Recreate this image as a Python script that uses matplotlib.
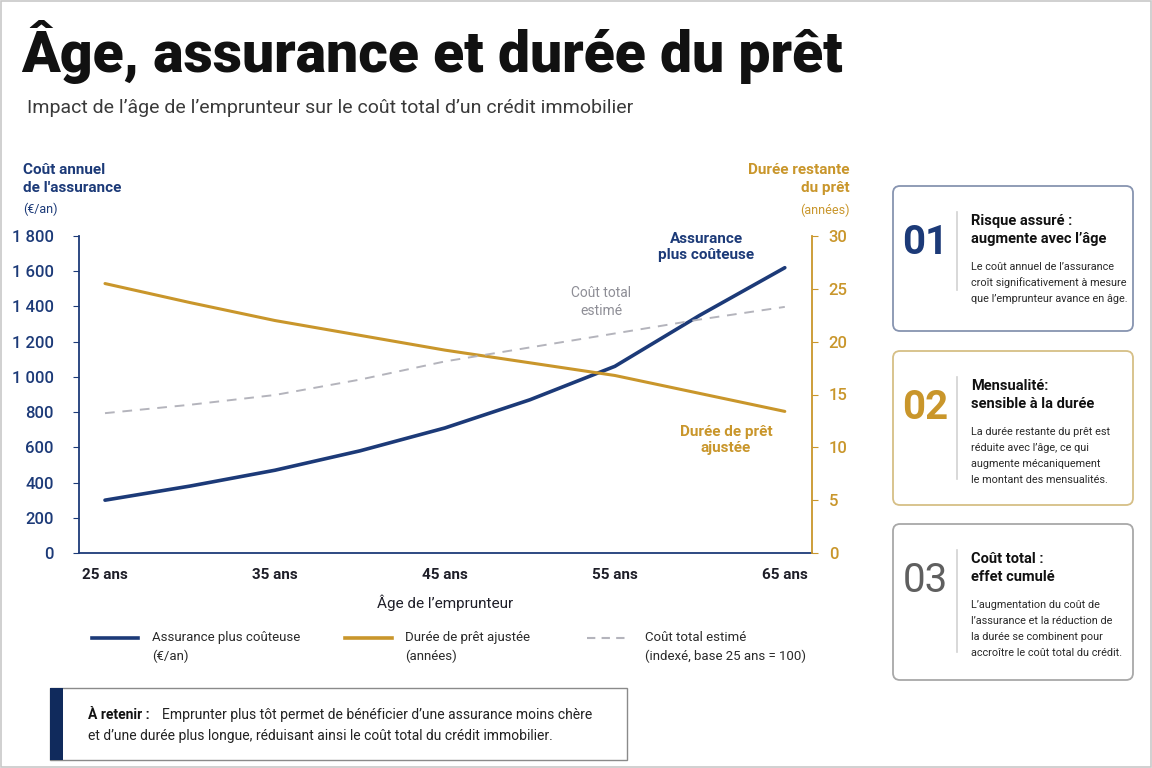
import matplotlib.pyplot as plt
import numpy as np
from matplotlib.patches import FancyBboxPatch, Rectangle
from matplotlib.lines import Line2D

# données
ages = [25, 30, 35, 40, 45, 50, 55, 60, 65]
assurance = [300, 380, 470, 580, 710, 870, 1060, 1350, 1620]      # €/an
duree = [25.5, 23.7, 22.0, 20.6, 19.2, 18.0, 16.8, 15.1, 13.4]    # années
cout_total = [100, 106, 113, 124, 137, 147, 157, 167, 176]        # indice base 25 ans = 100

xticks = [25, 35, 45, 55, 65]
xtick_labels = ["25 ans", "35 ans", "45 ans", "55 ans", "65 ans"]
left_ticks = [0, 200, 400, 600, 800, 1000, 1200, 1400, 1600, 1800]
left_labels = ["0", "200", "400", "600", "800", "1 000", "1 200", "1 400", "1 600", "1 800"]
right_ticks = [0, 5, 10, 15, 20, 25, 30]

NAVY = "#1c3a78"
GOLD = "#c9962b"
GRAY = "#b4b4bc"
DARK = "#1e1e28"
SANS = ["Roboto", "DejaVu Sans"]

W, H = 1152, 768
fig = plt.figure(figsize=(W / 100, H / 100), dpi=100)
fig.patch.set_facecolor("white")

# calque de fond en coordonnées pixels
bg = fig.add_axes([0, 0, 1, 1])
bg.set_xlim(0, W)
bg.set_ylim(H, 0)
bg.axis("off")
bg.add_patch(Rectangle((1, 1), W - 2, H - 2, fill=False, ec="#c8c8c8", lw=1.2))

# titres
bg.text(21, 52, "Âge, assurance et durée du prêt", fontsize=41, fontweight="heavy",
        family=SANS, color="#111111", va="center", ha="left")
bg.text(27, 108, "Impact de l’âge de l’emprunteur sur le coût total d’un crédit immobilier",
        fontsize=14, family=SANS, color="#3a3a3a", va="center", ha="left")

# titres des axes
bg.text(23, 179, "Coût annuel\nde l'assurance", fontsize=11, fontweight="bold", family=SANS,
        color=NAVY, va="center", ha="left", linespacing=1.3)
bg.text(23, 209, "(€/an)", fontsize=9, family=SANS, color=NAVY, va="center", ha="left")
bg.text(850, 179, "Durée restante\ndu prêt", fontsize=11, fontweight="bold", family=SANS,
        color=GOLD, va="center", ha="right", linespacing=1.3, multialignment="right")
bg.text(850, 210, "(années)", fontsize=9, family=SANS, color=GOLD, va="center", ha="right")

# graphique principal
ax = fig.add_axes([79 / W, 1 - 553 / H, (812 - 79) / W, (553 - 236) / H])
ax.patch.set_alpha(0)
ax2 = ax.twinx()
ax3 = ax.twinx()

ax.plot(ages, assurance, color=NAVY, lw=2.6, solid_capstyle="round", zorder=4)
ax2.plot(ages, duree, color=GOLD, lw=2.2, solid_capstyle="round", zorder=3)
ax3.plot(ages, cout_total, color=GRAY, lw=1.4, ls=(0, (5, 4)), zorder=2)

ax.set_xlim(23.47, 66.6)
ax.set_ylim(0, 1800)
ax2.set_ylim(0, 30)
ax3.set_ylim(0, 226.7)
ax3.axis("off")

ax.set_xticks(xticks)
ax.set_xticklabels(xtick_labels, fontsize=11, fontweight="bold", family=SANS, color=DARK)
ax.tick_params(axis="x", length=0, pad=11)
ax.set_yticks(left_ticks)
ax.set_yticklabels(left_labels, fontsize=12, family=SANS, color=NAVY, fontweight="medium")
ax.tick_params(axis="y", length=4, color=NAVY, pad=14)
ax2.set_yticks(right_ticks)
ax2.set_yticklabels([str(v) for v in right_ticks], fontsize=12, family=SANS, color=GOLD,
                    fontweight="medium")
ax2.tick_params(axis="y", length=4, color=GOLD, pad=8)

for a in (ax, ax2):
    a.spines["top"].set_visible(False)
ax.spines["right"].set_visible(False)
ax.spines["left"].set_color(NAVY)
ax.spines["left"].set_linewidth(1.3)
ax.spines["bottom"].set_color(NAVY)
ax.spines["bottom"].set_linewidth(1.3)
ax2.spines["left"].set_visible(False)
ax2.spines["bottom"].set_visible(False)
ax2.spines["right"].set_color(GOLD)
ax2.spines["right"].set_linewidth(1.3)

# annotations
bg.text(706, 247, "Assurance\nplus coûteuse", fontsize=11, fontweight="bold", family=SANS,
        color=NAVY, ha="center", va="center", linespacing=1.2)
bg.text(601, 302, "Coût total\nestimé", fontsize=10, family=SANS, color="#8e8e96",
        ha="center", va="center", linespacing=1.3)
bg.text(726, 440, "Durée de prêt\najustée", fontsize=11, fontweight="bold", family=SANS,
        color=GOLD, ha="center", va="center", linespacing=1.25)
bg.text(445, 603, "Âge de l’emprunteur", fontsize=11, family=SANS, color=DARK,
        ha="center", va="center")

# légende
leg = [(92, 138, NAVY, "-", 2.6, "Assurance plus coûteuse\n(€/an)", 152),
       (345, 392, GOLD, "-", 2.6, "Durée de prêt ajustée\n(années)", 405),
       (587, 630, GRAY, (0, (4, 3)), 1.5, "Coût total estimé\n(indexé, base 25 ans = 100)", 645)]
for x0, x1, c, ls, lw, lab, tx in leg:
    bg.add_line(Line2D([x0, x1], [638, 638], color=c, ls=ls, lw=lw))
    bg.text(tx, 647, lab, fontsize=9.5, family=SANS, color="#2a2a2a", ha="left", va="center",
            linespacing=1.5)

# encadré "À retenir"
bg.add_patch(Rectangle((50, 688), 577, 72, fc="white", ec="#8a8a8a", lw=1.0))
bg.add_patch(Rectangle((50, 688), 13, 72, fc="#102a5c", ec="none"))
bg.text(88, 715, "À retenir :", fontsize=10, fontweight="bold", family=SANS, color="#111111",
        ha="left", va="center")
bg.text(162, 715, "Emprunter plus tôt permet de bénéficier d’une assurance moins chère",
        fontsize=10, family=SANS, color="#222222", ha="left", va="center")
bg.text(88, 736, "et d’une durée plus longue, réduisant ainsi le coût total du crédit immobilier.",
        fontsize=10, family=SANS, color="#222222", ha="left", va="center")

# cartes de droite
cards = [
    (186, 331, NAVY, "#8794b0", "bold", "01", "Risque assuré :\naugmente avec l’âge",
     ["Le coût annuel de l’assurance", "croît significativement à mesure",
      "que l’emprunteur avance en âge."]),
    (351, 505, GOLD, "#d6bf86", "bold", "02", "Mensualité:\nsensible à la durée",
     ["La durée restante du prêt est", "réduite avec l’âge, ce qui",
      "augmente mécaniquement", "le montant des mensualités."]),
    (524, 680, "#5f5f5f", "#a8a8a8", "normal", "03", "Coût total :\neffet cumulé",
     ["L’augmentation du coût de", "l’assurance et la réduction de",
      "la durée se combinent pour", "accroître le coût total du crédit."]),
]
for y0, y1, col, edge, wt, num, title, body in cards:
    bg.add_patch(FancyBboxPatch((893, y0), 240, y1 - y0, boxstyle="round,pad=0,rounding_size=7",
                                fc="white", ec=edge, lw=1.3))
    bg.text(925, y0 + 57, num, fontsize=29, family=SANS, color=col, fontweight=wt,
            ha="center", va="center")
    bg.add_line(Line2D([957, 957], [y0 + 26, y0 + 26 + len(body) * 24 + 6], color="#d2d2d2", lw=1.2))
    bg.text(971, y0 + 44, title, fontsize=10.5, fontweight="bold", family=SANS, color="#111111",
            ha="left", va="center", linespacing=1.35)
    for i, line in enumerate(body):
        bg.text(971, y0 + 81 + i * 16, line, fontsize=7.8, family=SANS, color="#2a2a2a",
                ha="left", va="center")

fig.savefig("out.png", dpi=100, facecolor="white")
